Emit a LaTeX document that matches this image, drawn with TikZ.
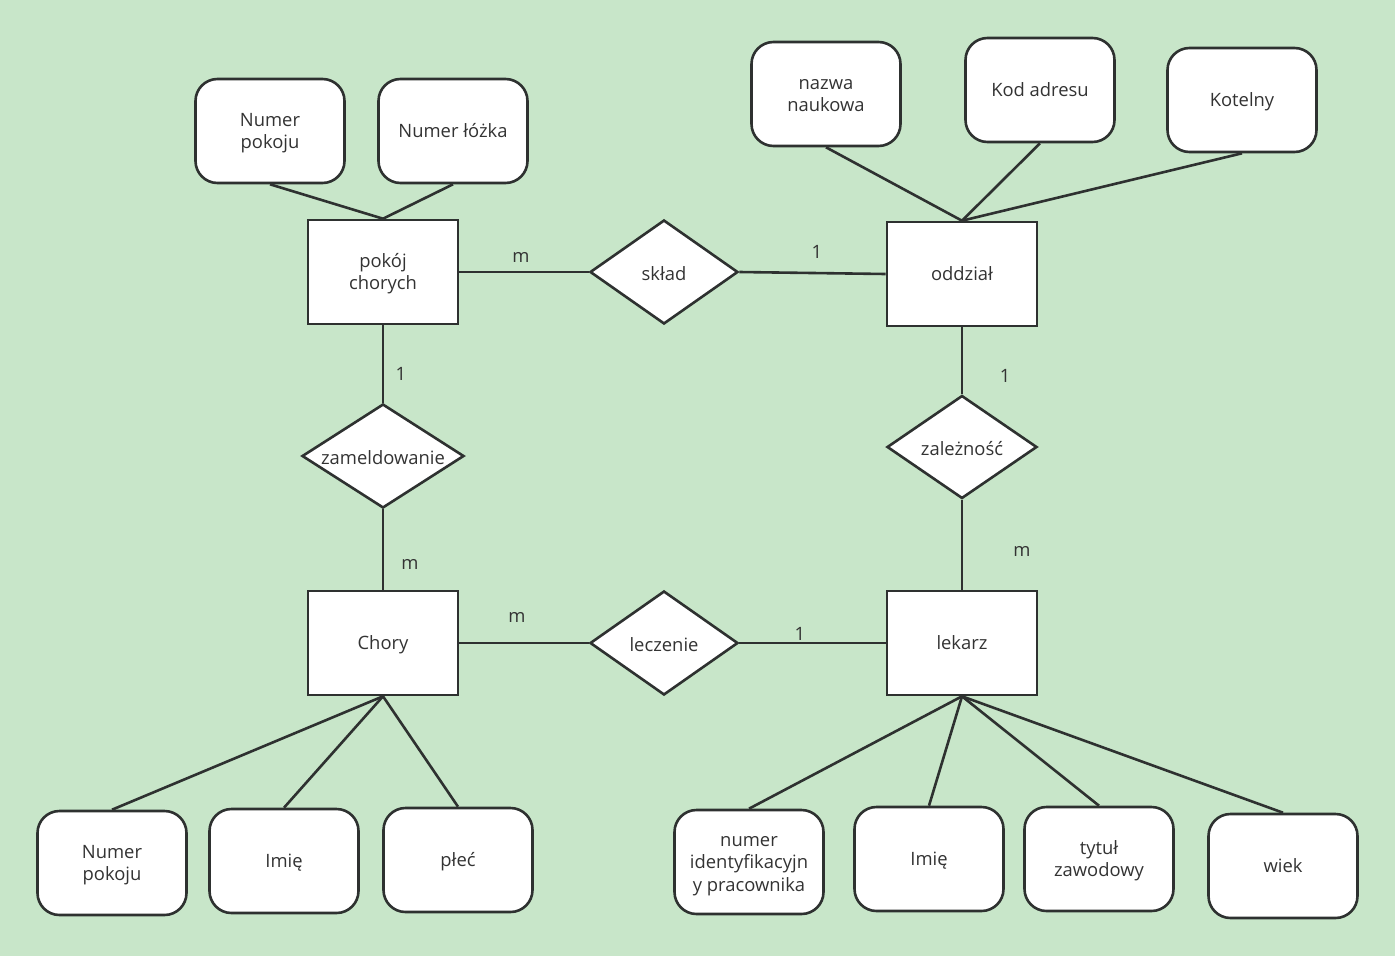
\documentclass[tikz,border=0pt]{standalone}
\usepackage{fontspec}
\setmainfont{Open Sans}
\usetikzlibrary{shapes.geometric}
\definecolor{bg}{HTML}{C8E6C9}
\definecolor{ln}{HTML}{2E3130}
\definecolor{tx}{HTML}{333333}
\newcommand\lbl[1]{\raisebox{-2pt}[\height][\depth]{\begin{tabular}{@{}c@{}}#1\end{tabular}}}
\tikzset{
  base/.style={draw=ln, line width=2.6pt, fill=white, text=tx, align=center,
    font=\fontsize{18.4}{22.5}\selectfont, inner sep=0pt},
  attr/.style={base, rounded corners=22pt, minimum width=149pt, minimum height=104pt},
  ent/.style={base, minimum width=150pt, minimum height=104pt},
  rel/.style={base, diamond, minimum width=148pt, minimum height=104pt},
  conn/.style={draw=ln, line width=2.6pt},
  card/.style={text=tx, font=\fontsize{18.4}{22}\selectfont, yshift=-1.8pt}
}
\begin{document}
\begin{tikzpicture}[x=1pt,y=-1pt]
\fill[bg] (0,0) rectangle (1395,956);
\useasboundingbox (0,0) rectangle (1395,956);
% entities
\node[ent] (pokoj) at (383,272) {\lbl{pokój\\chorych}};
\node[ent] (oddzial) at (962,274) {\lbl{oddział}};
\node[ent] (chory) at (383,643) {\lbl{Chory}};
\node[ent] (lekarz) at (962,643) {\lbl{lekarz}};
% relations
\node[rel, label={[card]center:skład}] (sklad) at (664,272) {};
\node[rel, minimum width=162pt, label={[card]center:zameldowanie}] (zam) at (383,456) {};
\node[rel, minimum width=150pt, minimum height=103pt, label={[card]center:zależność}] (zal) at (962,447) {};
\node[rel, label={[card]center:leczenie}] (lecz) at (664,643) {};
% attributes
\node[attr] (a1) at (270,131) {\lbl{Numer\\pokoju}};
\node[attr] (a2) at (453,131) {\lbl{Numer łóżka}};
\node[attr] (a3) at (826,94) {\lbl{nazwa\\naukowa}};
\node[attr] (a4) at (1040,90) {\lbl{Kod adresu}};
\node[attr] (a5) at (1242,100) {\lbl{Kotelny}};
\node[attr] (b1) at (112,863) {\lbl{Numer\\pokoju}};
\node[attr] (b2) at (284,861) {\lbl{Imię}};
\node[attr] (b3) at (458,860) {\lbl{płeć}};
\node[attr] (c1) at (749,862) {\lbl{numer\\identyfikacyjn\\y pracownika}};
\node[attr] (c2) at (929,859) {\lbl{Imię}};
\node[attr] (c3) at (1099,859) {\lbl{tytuł\\zawodowy}};
\node[attr] (c4) at (1283,866) {\lbl{wiek}};
% connectors
\draw[conn] (pokoj.east) -- (sklad.west);
\draw[conn] (sklad.east) -- (oddzial.west);
\draw[conn] (pokoj.south) -- (zam.north);
\draw[conn] (zam.south) -- (chory.north);
\draw[conn] (oddzial.south) -- (zal.north);
\draw[conn] (zal.south) -- (lekarz.north);
\draw[conn] (chory.east) -- (lecz.west);
\draw[conn] (lecz.east) -- (lekarz.west);
\draw[conn] (a1.south) -- (pokoj.north);
\draw[conn] (a2.south) -- (pokoj.north);
\draw[conn] (a3.south) -- (oddzial.north);
\draw[conn] (a4.south) -- (oddzial.north);
\draw[conn] (a5.south) -- (oddzial.north);
\draw[conn] (chory.south) -- (b1.north);
\draw[conn] (chory.south) -- (b2.north);
\draw[conn] (chory.south) -- (b3.north);
\draw[conn] (lekarz.south) -- (c1.north);
\draw[conn] (lekarz.south) -- (c2.north);
\draw[conn] (lekarz.south) -- (c3.north);
\draw[conn] (lekarz.south) -- (c4.north);
% cardinalities
\node[card] (k1) at (521,256) {m};
\node[card] (k2) at (817,250) {1};
\node[card] (k3) at (401,372) {1};
\node[card] (k4) at (410,563) {m};
\node[card] (k5) at (1005,374) {1};
\node[card] (k6) at (1022,550) {m};
\node[card] (k7) at (517,616) {m};
\node[card] (k8) at (800,632) {1};
\end{tikzpicture}
\end{document}
